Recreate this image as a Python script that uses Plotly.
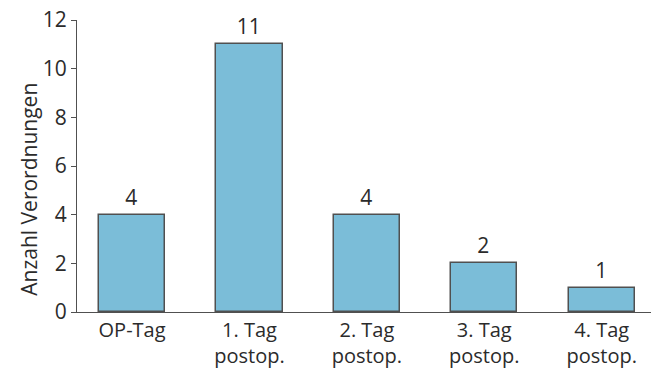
import plotly.graph_objects as go

categories = ["OP-Tag", "1. Tag<br>postop.", "2. Tag<br>postop.", "3. Tag<br>postop.", "4. Tag<br>postop."]
values = [4, 11, 4, 2, 1]
y_ticks = [0, 2, 4, 6, 8, 10, 12]
y_title = "Anzahl Verordnungen"

FONT = "Open Sans"
TXT = "#2b2b2b"

fig = go.Figure()
fig.add_trace(go.Bar(
    x=categories, y=values,
    width=0.565,
    marker=dict(color="#7bbdd8", line=dict(color="#505050", width=1.5)),
    text=[str(v) for v in values],
    textposition="outside",
    textfont=dict(family=FONT, size=21, color=TXT),
    cliponaxis=False,
))

fig.update_layout(
    width=651, height=369,
    margin=dict(l=77, r=0, t=20, b=57),
    paper_bgcolor="white", plot_bgcolor="white",
    showlegend=False,
    bargap=0,
    font=dict(family=FONT, size=21, color=TXT),
)
fig.update_xaxes(
    type="category",
    range=[-0.469, 4.42],
    showline=True, linecolor="#505050", linewidth=1.2,
    ticks="", showgrid=False,
    tickfont=dict(family=FONT, size=20, color=TXT),
)
fig.update_yaxes(
    range=[0, 12],
    tickvals=y_ticks,
    showline=True, linecolor="#505050", linewidth=1.2,
    ticks="outside", ticklen=5, tickcolor="#505050",
    showgrid=False, zeroline=False,
    tickfont=dict(family=FONT, size=21, color=TXT),
)
fig.add_annotation(
    text=y_title, textangle=-90,
    xref="paper", yref="paper",
    x=-0.083, y=0.42, xanchor="center", yanchor="middle",
    showarrow=False,
    font=dict(family=FONT, size=21, color=TXT),
)

fig.write_html("out.html")
